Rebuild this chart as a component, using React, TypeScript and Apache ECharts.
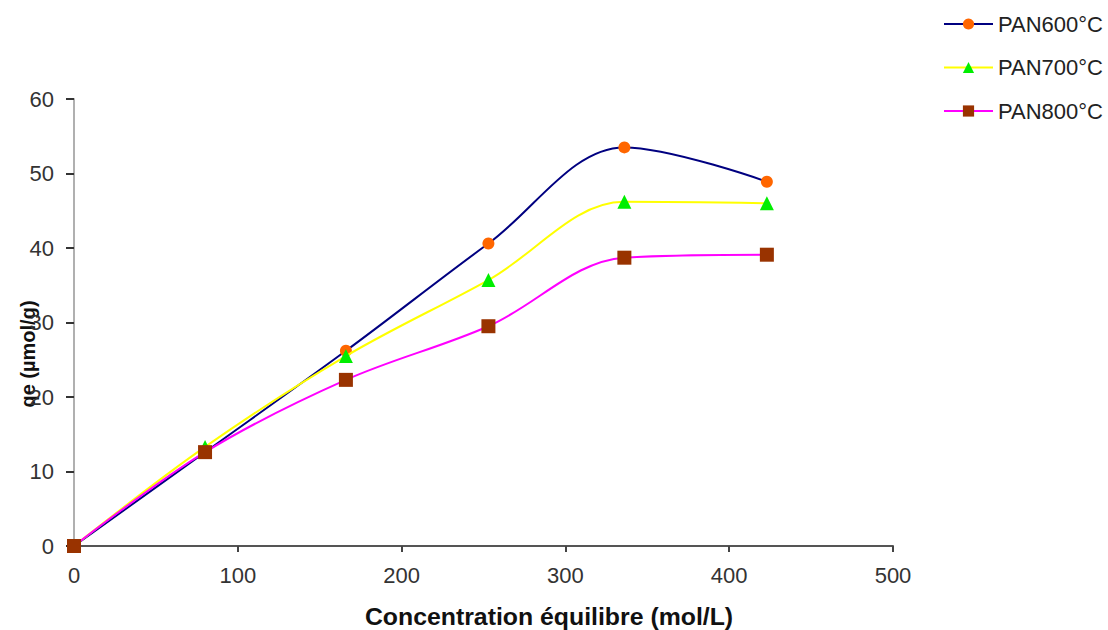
import React, { useEffect, useRef } from "react";
import * as echarts from "echarts";

const xValues = [0, 80, 166, 253, 336, 423];
const pan600 = [0, 12.6, 26.2, 40.6, 53.5, 48.9];
const pan700 = [0, 13.3, 25.5, 35.7, 46.2, 46.0];
const pan800 = [0, 12.6, 22.3, 29.5, 38.7, 39.1];
const seriesNames = ["PAN600°C", "PAN700°C", "PAN800°C"];
const xTitle = "Concentration équilibre (mol/L)";
const yTitle = "qe (µmol/g)";

const pairs = (ys: number[]) => xValues.map((x, i) => [x, ys[i]]);

export default function App() {
  const ref = useRef<HTMLDivElement>(null);
  useEffect(() => {
    if (!ref.current) return;
    const chart = echarts.init(ref.current, undefined, { renderer: "svg" });
    const font = "Liberation Sans, Arial, sans-serif";
    chart.setOption({
      animation: false,
      backgroundColor: "#ffffff",
      grid: { left: 74, right: 215, top: 99, bottom: 84 },
      legend: {
        orient: "vertical",
        left: 938,
        top: 8,
        itemWidth: 49,
        itemHeight: 14,
        itemGap: 21.5,
        textStyle: { fontFamily: font, fontSize: 22, color: "#222" },
        data: seriesNames,
      },
      xAxis: {
        type: "value",
        min: 0,
        max: 500,
        interval: 100,
        axisLine: { show: true, lineStyle: { color: "#555", width: 2 } },
        axisTick: { show: true, inside: false, length: 6, lineStyle: { color: "#444", width: 2 } },
        axisLabel: { fontFamily: font, fontSize: 22, color: "#333", margin: 18 },
        splitLine: { show: false },
      },
      yAxis: {
        type: "value",
        min: 0,
        max: 60,
        interval: 10,
        axisLine: { show: true, lineStyle: { color: "#b0b0b0", width: 2 } },
        axisTick: { show: true, inside: false, length: 8, lineStyle: { color: "#333", width: 2 } },
        axisLabel: { fontFamily: font, fontSize: 22, color: "#333", margin: 20 },
        splitLine: { show: false },
      },
      graphic: [
        {
          type: "text",
          x: 549,
          y: 617,
          scaleX: 1.08,
          style: {
            text: xTitle,
            fontFamily: font,
            fontSize: 23,
            fontWeight: "bold",
            fill: "#111",
            textAlign: "center",
            textVerticalAlign: "middle",
          },
        },
        {
          type: "text",
          x: 28,
          y: 354,
          rotation: Math.PI / 2,
          style: {
            text: yTitle,
            fontFamily: font,
            fontSize: 20,
            fontWeight: "bold",
            fill: "#111",
            textAlign: "center",
            textVerticalAlign: "middle",
          },
        },
      ],
      series: [
        {
          name: seriesNames[0],
          type: "line",
          smooth: 0.35,
          data: pairs(pan600),
          symbol: "circle",
          symbolSize: 12,
          lineStyle: { color: "#000080", width: 2 },
          itemStyle: { color: "#ff6600" },
          z: 3,
        },
        {
          name: seriesNames[1],
          type: "line",
          smooth: 0.35,
          data: pairs(pan700),
          symbol: "triangle",
          symbolSize: 14,
          lineStyle: { color: "#ffff00", width: 2 },
          itemStyle: { color: "#00ee00" },
          z: 4,
        },
        {
          name: seriesNames[2],
          type: "line",
          smooth: 0.35,
          data: pairs(pan800),
          symbol: "rect",
          symbolSize: 14,
          lineStyle: { color: "#ff00ff", width: 2 },
          itemStyle: { color: "#993300" },
          z: 5,
        },
      ],
    });
    return () => chart.dispose();
  }, []);
  return (
    <div
      ref={ref}
      style={{ position: "fixed", left: 0, top: 0, width: 1108, height: 630 }}
    />
  );
}
